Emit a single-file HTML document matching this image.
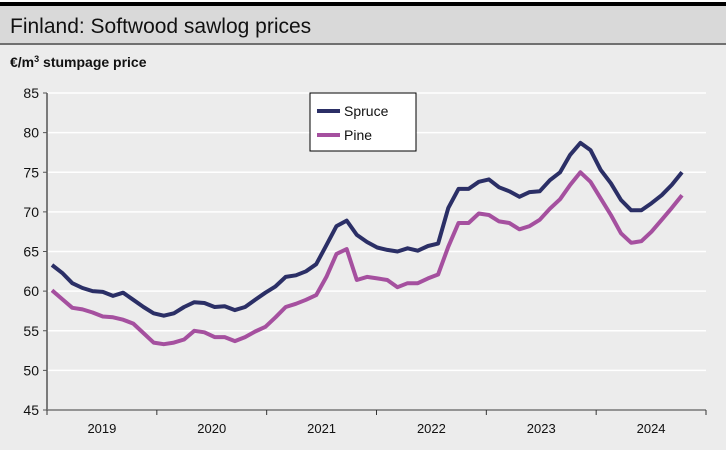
<!DOCTYPE html>
<html><head><meta charset="utf-8"><style>
body{margin:0;width:726px;height:445px;background:#ececec;overflow:hidden;font-family:"Liberation Sans",sans-serif}
</style></head><body>
<svg width="726" height="445" xmlns="http://www.w3.org/2000/svg">
<rect x="0" y="0" width="726" height="445" fill="#ececec"/>
<rect x="0" y="0" width="726" height="2" fill="#ffffff"/>
<rect x="0" y="2" width="726" height="4" fill="#000"/>
<rect x="0" y="6" width="726" height="37" fill="#d9d9d9"/>
<rect x="0" y="43" width="726" height="2" fill="#707070"/>
<text x="10" y="33" font-size="21" fill="#111">Finland: Softwood sawlog prices</text>
<text x="10" y="67" font-size="14" font-weight="bold" fill="#111">€/m<tspan dy="-5" font-size="9">3</tspan><tspan dy="5"> stumpage price</tspan></text>
<g id="grid"></g>
<g id="axes"></g>
<g id="series"></g>
<g>
<rect x="310" y="93" width="106" height="58" fill="#fff" stroke="#000" stroke-width="1"/>
<line x1="317" y1="111" x2="340" y2="111" stroke="#2b2f66" stroke-width="4"/>
<text x="344" y="116" font-size="14" fill="#111">Spruce</text>
<line x1="317" y1="135" x2="340" y2="135" stroke="#a5509f" stroke-width="4"/>
<text x="344" y="140" font-size="14" fill="#111">Pine</text>
</g>
</svg>
<script>
const yTicks=[45,50,55,60,65,70,75,80,85];
const years=["2019","2020","2021","2022","2023","2024"];
const spruce=[63.3,62.3,61.0,60.4,60.0,59.9,59.4,59.8,58.9,58.0,57.2,56.9,57.2,58.0,58.6,58.5,58.0,58.1,57.6,58.0,58.9,59.8,60.6,61.8,62.0,62.5,63.4,65.8,68.2,68.9,67.1,66.2,65.5,65.2,65.0,65.4,65.1,65.7,66.0,70.5,72.9,72.9,73.8,74.1,73.1,72.6,71.9,72.5,72.6,74.0,75.0,77.2,78.7,77.8,75.3,73.6,71.5,70.2,70.2,71.1,72.1,73.4,75.0];
const pine=[60.1,59.0,57.9,57.7,57.3,56.8,56.7,56.4,55.9,54.7,53.5,53.3,53.5,53.9,55.0,54.8,54.2,54.2,53.7,54.2,54.9,55.5,56.7,58.0,58.4,58.9,59.5,61.8,64.7,65.3,61.4,61.8,61.6,61.4,60.5,61.0,61.0,61.6,62.1,65.6,68.6,68.6,69.8,69.6,68.8,68.6,67.8,68.2,69.0,70.4,71.6,73.4,75.0,73.8,71.7,69.6,67.3,66.1,66.3,67.5,69.0,70.5,72.1];
const NS="http://www.w3.org/2000/svg";
const X0=47,X1=706,YT=93,YB=410,XS=52,XE=682;
const y=v=>YB-(v-45)/(85-45)*(YB-YT);
const xi=(i,n)=>XS+(XE-XS)*i/(n-1);
const grid=document.getElementById('grid'),axes=document.getElementById('axes'),ser=document.getElementById('series');
yTicks.forEach(t=>{
  if(t>45){const l=document.createElementNS(NS,'line');
  l.setAttribute('x1',X0);l.setAttribute('x2',X1);l.setAttribute('y1',y(t));l.setAttribute('y2',y(t));
  l.setAttribute('stroke','#fff');l.setAttribute('stroke-width','1.5');
  
  
  grid.appendChild(l);}
  const tk=document.createElementNS(NS,'line');
  tk.setAttribute('x1',X0-4);tk.setAttribute('x2',X0);tk.setAttribute('y1',y(t));tk.setAttribute('y2',y(t));tk.setAttribute('stroke','#555');
  
  
  axes.appendChild(tk);
  const tx=document.createElementNS(NS,'text');
  tx.setAttribute('x',X0-8);tx.setAttribute('y',y(t)+5);tx.setAttribute('text-anchor','end');tx.setAttribute('font-size','14');tx.setAttribute('fill','#111');
  tx.textContent=t;
  
  
  axes.appendChild(tx);
});
const ya=document.createElementNS(NS,'line');
ya.setAttribute('x1',X0);ya.setAttribute('x2',X0);ya.setAttribute('y1',YT);ya.setAttribute('y2',YB);ya.setAttribute('stroke','#555');ya.setAttribute('stroke-width','1.5');


axes.appendChild(ya);
const xa=document.createElementNS(NS,'line');
xa.setAttribute('x1',X0);xa.setAttribute('x2',X1);xa.setAttribute('y1',YB);xa.setAttribute('y2',YB);xa.setAttribute('stroke','#777');xa.setAttribute('stroke-width','1.5');


axes.appendChild(xa);
const yw=(X1-X0)/years.length;
for(let k=0;k<=years.length;k++){
  const tk=document.createElementNS(NS,'line');
  const xx=X0+k*yw;
  tk.setAttribute('x1',xx);tk.setAttribute('x2',xx);tk.setAttribute('y1',YB);tk.setAttribute('y2',YB+5);tk.setAttribute('stroke','#333');
  
  
  axes.appendChild(tk);
  if(k<years.length){const tx=document.createElementNS(NS,'text');
  tx.setAttribute('x',xx+yw/2);tx.setAttribute('y',YB+23);tx.setAttribute('text-anchor','middle');tx.setAttribute('font-size','13');tx.setAttribute('fill','#111');
  tx.textContent=years[k];
  
  
  axes.appendChild(tx);}
}
function line(arr,color,name){
  const p=document.createElementNS(NS,'polyline');
  p.setAttribute('points',arr.map((v,i)=>xi(i,arr.length).toFixed(1)+','+y(v).toFixed(1)).join(' '));
  p.setAttribute('fill','none');p.setAttribute('stroke',color);p.setAttribute('stroke-width','4');p.setAttribute('stroke-linejoin','round');
  
  
  ser.appendChild(p);
}
line(pine,'#a5509f','pine-line');
line(spruce,'#2b2f66','spruce-line');
</script>
</body></html>
